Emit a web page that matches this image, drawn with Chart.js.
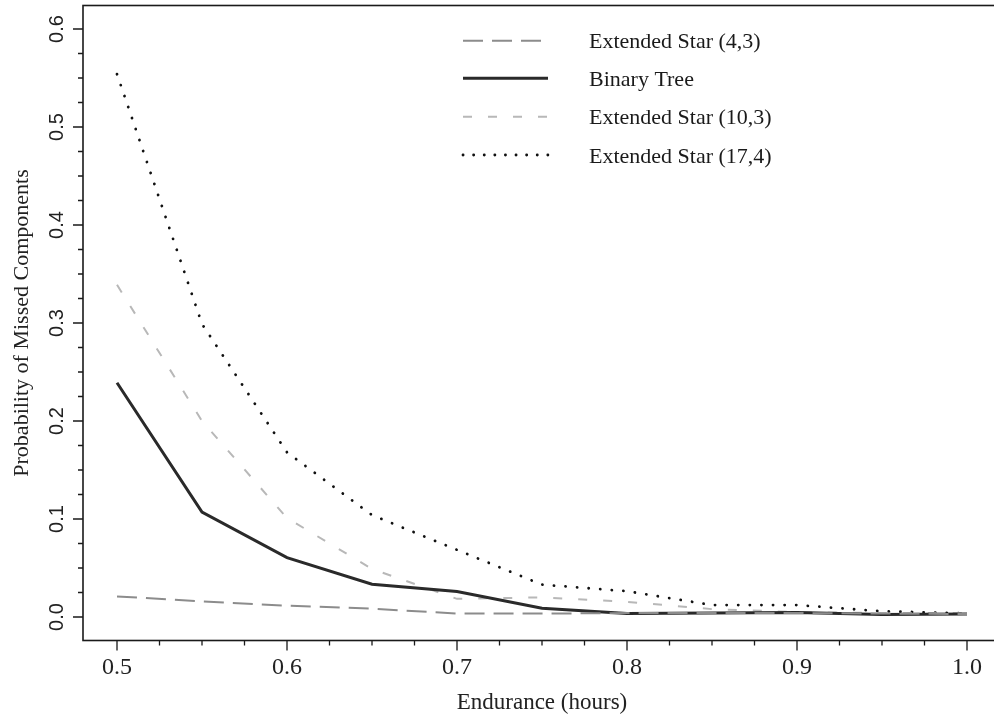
<!DOCTYPE html>
<html><head><meta charset="utf-8">
<script src="https://cdn.jsdelivr.net/npm/chart.js@4"></script>
<style>html,body{margin:0;padding:0;background:#fff;overflow:hidden;width:994px;height:720px}canvas{display:block}</style>
</head><body>
<canvas id="c" width="1003" height="720"></canvas>
<script>
// ---- data ----
const endurance   = [0.5, 0.55, 0.6, 0.65, 0.7, 0.75, 0.8, 0.85, 0.9, 0.95, 1.0];
const seriesNames = ["Extended Star (4,3)", "Binary Tree", "Extended Star (10,3)", "Extended Star (17,4)"];
const star43      = [0.021, 0.016, 0.0115, 0.0085, 0.0035, 0.0035, 0.004, 0.004, 0.004, 0.0035, 0.003];
const binaryTree  = [0.239, 0.107, 0.0605, 0.0335, 0.026, 0.009, 0.0035, 0.004, 0.0045, 0.0025, 0.003];
const star103     = [0.339, 0.200, 0.101, 0.049, 0.0185, 0.020, 0.0155, 0.008, 0.005, 0.004, 0.004];
const star174     = [0.554, 0.299, 0.168, 0.104, 0.0685, 0.033, 0.0263, 0.0122, 0.0122, 0.0058, 0.0037];
const xTicks      = [0.5, 0.6, 0.7, 0.8, 0.9, 1.0];
const yTicks      = [0.0, 0.1, 0.2, 0.3, 0.4, 0.5, 0.6];
const xTitle      = "Endurance (hours)";
const yTitle      = "Probability of Missed Components";

const toPts = arr => endurance.map((x, i) => ({x: x, y: arr[i]}));
const styles = [
  {borderColor: '#8c8c8c', borderWidth: 2, borderDash: [20, 9], borderCapStyle: 'butt', legendDash: [20, 9]},
  {borderColor: '#2a2a2a', borderWidth: 3, borderDash: [], borderCapStyle: 'butt', legendDash: []},
  {borderColor: '#b8b8b8', borderWidth: 2, borderDash: [9, 16], borderCapStyle: 'butt', legendDash: [9, 16]},
  {borderColor: '#111111', borderWidth: 2.8, borderDash: [0.1, 11.5], borderCapStyle: 'round', legendDash: [0.1, 10.5]}
];
const seriesData = [star43, binaryTree, star103, star174];
const datasets = seriesData.map((arr, i) => Object.assign({
  label: seriesNames[i], data: toPts(arr), fill: false, tension: 0, pointRadius: 0, pointHoverRadius: 0
}, styles[i]));

function minorOf(ticks) {
  const out = [];
  for (let i = 0; i < ticks.length - 1; i++) {
    const a = ticks[i], b = ticks[i + 1];
    for (let k = 1; k < 4; k++) out.push(a + (b - a) * k / 4);
  }
  return out;
}

const framePlugin = {
  id: 'frame',
  afterDraw(chart) {
    const {ctx, chartArea: ca, scales: {x, y}} = chart;
    ctx.save();
    ctx.strokeStyle = '#1a1a1a';
    ctx.lineWidth = 1.6;
    ctx.setLineDash([]);
    ctx.strokeRect(ca.left, ca.top, ca.right - ca.left, ca.bottom - ca.top);
    ctx.lineWidth = 1.3;
    ctx.beginPath();
    xTicks.forEach(v => { const p = x.getPixelForValue(v); ctx.moveTo(p, ca.bottom); ctx.lineTo(p, ca.bottom + 10); });
    minorOf(xTicks).forEach(v => { const p = x.getPixelForValue(v); ctx.moveTo(p, ca.bottom); ctx.lineTo(p, ca.bottom + 5); });
    yTicks.forEach(v => { const p = y.getPixelForValue(v); ctx.moveTo(ca.left, p); ctx.lineTo(ca.left - 10, p); });
    minorOf(yTicks).forEach(v => { const p = y.getPixelForValue(v); ctx.moveTo(ca.left, p); ctx.lineTo(ca.left - 5, p); });
    ctx.stroke();
    // y tick labels (rotated)
    ctx.fillStyle = '#222';
    ctx.font = '20px "Liberation Sans", Arial, sans-serif';
    ctx.textAlign = 'center';
    ctx.textBaseline = 'alphabetic';
    yTicks.forEach(v => {
      const p = y.getPixelForValue(v);
      ctx.save();
      ctx.translate(63, p);
      ctx.rotate(-Math.PI / 2);
      ctx.fillText(v.toFixed(1), 0, 0);
      ctx.restore();
    });
    // legend
    const rows = [40.7, 78.3, 116.7, 155];
    ctx.font = '22px "Liberation Serif", "Times New Roman", serif';
    ctx.textAlign = 'left';
    chart.data.datasets.forEach((ds, i) => {
      const ry = rows[i];
      ctx.save();
      ctx.strokeStyle = ds.borderColor;
      ctx.lineWidth = ds.borderWidth;
      ctx.setLineDash(ds.legendDash);
      ctx.lineCap = ds.borderCapStyle;
      ctx.beginPath();
      ctx.moveTo(463, ry); ctx.lineTo(548, ry);
      ctx.stroke();
      ctx.restore();
      ctx.fillStyle = '#1a1a1a';
      ctx.fillText(ds.label, 589, ry + 7.5);
    });
    ctx.restore();
  }
};

new Chart(document.getElementById('c'), {
  type: 'line',
  data: {datasets: datasets},
  options: {
    responsive: false,
    animation: false,
    devicePixelRatio: 1,
    layout: {padding: {top: 5.5, right: 2, left: 0, bottom: 0}},
    plugins: {legend: {display: false}, tooltip: {enabled: false}},
    scales: {
      x: {
        type: 'linear', min: 0.48, max: 1.02,
        afterBuildTicks: s => { s.ticks = xTicks.map(v => ({value: v})); },
        afterFit: s => { s.height = 79.5; },
        grid: {display: false, drawTicks: false},
        border: {display: false},
        ticks: {padding: 13, color: '#222', font: {family: '"Liberation Serif", "Times New Roman", serif', size: 24},
                callback: v => Number(v).toFixed(1), maxRotation: 0, autoSkip: false},
        title: {display: true, text: xTitle, color: '#222', padding: {top: 0, bottom: 3},
                font: {family: '"Liberation Serif", "Times New Roman", serif', size: 23}}
      },
      y: {
        type: 'linear', min: -0.024, max: 0.624,
        afterBuildTicks: s => { s.ticks = yTicks.map(v => ({value: v})); },
        afterFit: s => { s.width = 83; },
        grid: {display: false, drawTicks: false},
        border: {display: false},
        ticks: {display: false},
        title: {display: true, text: yTitle, color: '#222', padding: {top: 9, bottom: 0},
                font: {family: '"Liberation Serif", "Times New Roman", serif', size: 22}}
      }
    }
  },
  plugins: [framePlugin]
});
</script>
</body></html>
